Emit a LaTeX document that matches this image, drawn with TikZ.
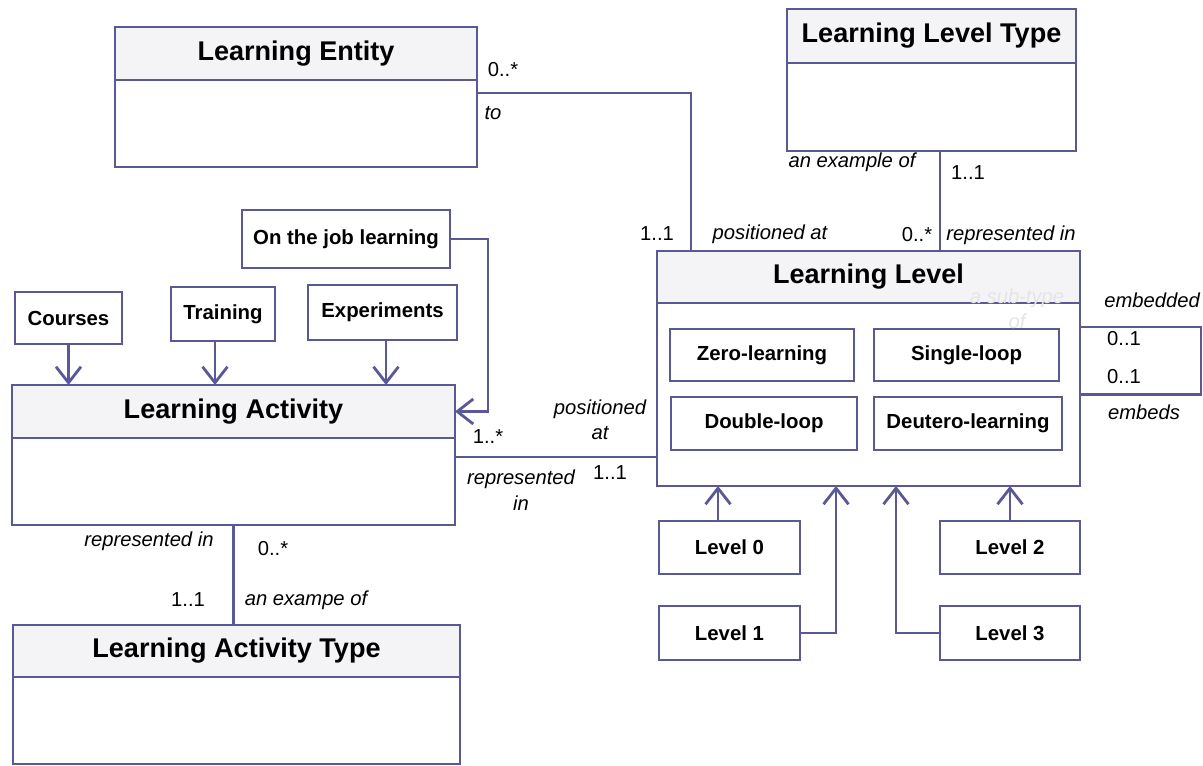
\documentclass[tikz,border=0pt]{standalone}
\usepackage{fontspec}
\setmainfont{Liberation Sans}
\usetikzlibrary{positioning,arrows.meta}
\definecolor{umlline}{RGB}{90,88,150}
\definecolor{umlhead}{RGB}{244,244,246}

\begin{document}
\begin{tikzpicture}[x=0.02cm,y=-0.02cm,line width=1.6pt,
  classhead/.style={draw=umlline,fill=umlhead,outer sep=0pt,font=\fontsize{15.4}{18}\selectfont\bfseries},
  classbody/.style={draw=umlline,fill=white,outer sep=0pt},
  box/.style={draw=umlline,fill=white,outer sep=0pt,font=\fontsize{11.6}{14}\selectfont\bfseries},
  rel/.style={draw=umlline},
  arr/.style={draw=umlline,-{Straight Barb[length=3.2mm,width=5mm]}},
  role/.style={font=\fontsize{11.5}{14.5}\selectfont\itshape,align=center,inner sep=0pt},
  mult/.style={font=\fontsize{11.5}{14}\selectfont,inner sep=0pt}]
\useasboundingbox (0,0) rectangle (1203,766);

% classes
\node[classhead,minimum width=7.24cm,minimum height=1.06cm] (entityh) at (296,53.5) {Learning Entity};
\node[classbody,minimum width=7.24cm,minimum height=1.74cm,below=0pt of entityh] (entity) {};
\node[classhead,minimum width=5.78cm,minimum height=1.08cm] (typeh) at (931.5,36) {Learning Level Type};
\node[classbody,minimum width=5.78cm,minimum height=1.76cm,below=0pt of typeh] (type) {};
\node[classhead,minimum width=8.46cm,minimum height=1.04cm] (levelh) at (868.5,277) {Learning Level};
\node[classbody,minimum width=8.46cm,minimum height=3.66cm,below=0pt of levelh] (level) {};
\node[classhead,minimum width=8.86cm,minimum height=1.06cm] (acth) at (233.5,411.5) {Learning Activity};
\node[classbody,minimum width=8.86cm,minimum height=1.74cm,below=0pt of acth] (act) {};
\node[classhead,minimum width=8.94cm,minimum height=1.04cm] (acttypeh) at (236.5,651) {Learning Activity Type};
\node[classbody,minimum width=8.94cm,minimum height=1.74cm,below=0pt of acttypeh] (acttype) {};

% kinds of learning
\node[box,minimum width=3.68cm,minimum height=1.04cm] (zero) at (762,355) {Zero-learning};
\node[box,minimum width=3.70cm,minimum height=1.04cm] (single) at (966.5,355) {Single-loop};
\node[box,minimum width=3.72cm,minimum height=1.06cm] (double) at (764,423.5) {Double-loop};
\node[box,minimum width=3.76cm,minimum height=1.06cm] (deutero) at (968,423.5) {Deutero-learning};

% levels
\node[box,minimum width=2.82cm,minimum height=1.06cm] (lvl0) at (729.5,547.5) {Level 0};
\node[box,minimum width=2.82cm,minimum height=1.08cm] (lvl1) at (729.5,633) {Level 1};
\node[box,minimum width=2.80cm,minimum height=1.06cm] (lvl2) at (1010,547.5) {Level 2};
\node[box,minimum width=2.80cm,minimum height=1.08cm] (lvl3) at (1010,633) {Level 3};

% activities
\node[box,minimum width=2.14cm,minimum height=1.04cm] (courses) at (68.5,318) {Courses};
\node[box,minimum width=2.08cm,minimum height=1.08cm] (training) at (223,314) {Training};
\node[box,minimum width=2.98cm,minimum height=1.10cm] (experiments) at (382.5,312.5) {Experiments};
\node[box,minimum width=4.16cm,minimum height=1.16cm] (onjob) at (346,239) {On the job learning};

% associations
\draw[rel] ([yshift=-.26cm]entity.north east) -| ([xshift=.68cm]levelh.north west);
\draw[rel] ([xshift=.17cm]type.south) -- ([xshift=.17cm]type.south |- levelh.north);
\draw[rel] ([yshift=.49cm]act.east) -- ([yshift=.49cm]act.east -| level.west);
\draw[rel] (act.south) -- (act.south |- acttypeh.north);
\draw[rel] ([yshift=1.35cm]level.east) -- ++(2.42cm,0) |- (level.east);

% generalisations
\draw[arr] (courses.south) -- (courses.south |- acth.north);
\draw[arr] ([xshift=-.16cm]training.south) -- ([xshift=-.16cm]training.south |- acth.north);
\draw[arr] ([xshift=.07cm]experiments.south) -- ([xshift=.07cm]experiments.south |- acth.north);
\draw[arr] (onjob.east) -- ++(.76cm,0) |- (acth.east);
\draw[arr] ([xshift=-.23cm]lvl0.north) -- ([xshift=-.23cm]lvl0.north |- level.south);
\draw[arr] (lvl2.north) -- (lvl2.north |- level.south);
\draw[arr] (lvl1.east) -| ([xshift=3.58cm]level.south west);
\draw[arr] (lvl3.west) -| ([xshift=4.78cm]level.south west);

% roles and multiplicities
\node[mult] (m1) at (503,70) {0..*};
\node[role] (r1) at (493,113) {to};
\node[mult] (m2) at (657,234) {1..1};
\node[role] (r2) at (770,234) {positioned at};
\node[role] (r3) at (852,162) {an example of};
\node[mult] (m3) at (968,173) {1..1};
\node[mult] (m4) at (917,235) {0..*};
\node[role] (r4) at (1011,235) {represented in};
\node[role] (r5) at (1152,300) {embedded};
\node[mult] (m5) at (1124,339) {0..1};
\node[mult] (m6) at (1124,377) {0..1};
\node[role] (r6) at (1144,412) {embeds};
\node[role,text=black!10] (r7) at (1017,309) {a sub-type\\of};
\node[role] (r8) at (600,420) {positioned\\at};
\node[mult] (m7) at (488,437) {1..*};
\node[role] (r9) at (521,490) {represented\\in};
\node[mult] (m8) at (610,473) {1..1};
\node[role] (r10) at (149,541) {represented in};
\node[mult] (m9) at (273,549) {0..*};
\node[mult] (m10) at (188,600) {1..1};
\node[role] (r11) at (306,600) {an exampe of};
\end{tikzpicture}
\end{document}
